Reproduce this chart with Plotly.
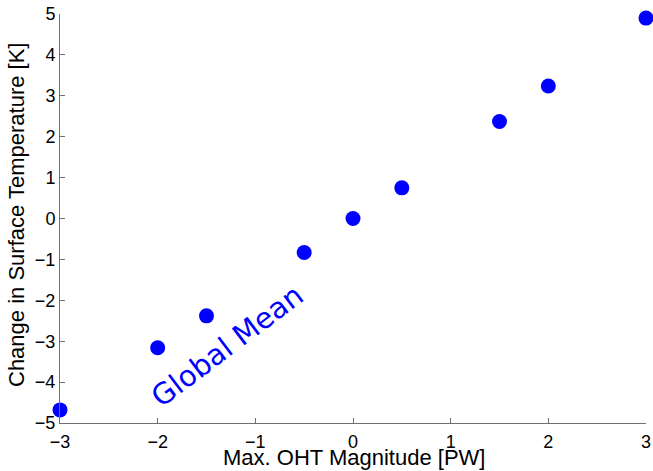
import plotly.graph_objects as go

x_vals = [-3, -2, -1.5, -0.5, 0, 0.5, 1.5, 2, 3]
y_vals = [-4.68, -3.16, -2.38, -0.83, 0.0, 0.75, 2.37, 3.24, 4.9]
x_ticks = [-3, -2, -1, 0, 1, 2, 3]
y_ticks = [-5, -4, -3, -2, -1, 0, 1, 2, 3, 4, 5]

W, H = 653, 471
L, R, T, B = 60, 7, 14, 48

fig = go.Figure()
fig.add_trace(go.Scatter(x=x_vals, y=y_vals, mode="markers",
                         marker=dict(color="#0000ff", size=15, line=dict(width=0)),
                         cliponaxis=False, showlegend=False))

tick_font = dict(family="Liberation Sans, Arial, sans-serif", size=18, color="black")
title_font = dict(family="Liberation Sans, Arial, sans-serif", size=22, color="black")
axis_common = dict(ticks="inside", ticklen=5, tickcolor="#707070", showline=True, linecolor="#707070",
                   linewidth=1, showgrid=False, zeroline=False, tickfont=tick_font, automargin=False)
fig.update_xaxes(range=[-3, 3], tickvals=x_ticks, ticklabelstandoff=2,
                 ticktext=[str(t).replace("-", "\u2212") for t in x_ticks], **axis_common)
fig.update_yaxes(range=[-5, 5], tickvals=y_ticks,
                 ticktext=[str(t).replace("-", "\u2212") for t in y_ticks], **axis_common)

pw = W - L - R
ph = H - T - B
fig.add_annotation(xref="paper", yref="paper", x=(354 - L) / pw, y=-(457 - (H - B)) / ph,
                   text="Max. OHT Magnitude [PW]", showarrow=False, font=title_font,
                   xanchor="center", yanchor="middle")
fig.add_annotation(xref="paper", yref="paper", x=-(L - 16) / pw, y=(H - B - 215) / ph,
                   text="Change in Surface Temperature [K]", showarrow=False, font=title_font,
                   textangle=-90, xanchor="center", yanchor="middle")

fig.add_annotation(x=-1.29, y=-3.12, text="Global Mean", showarrow=False, textangle=-37,
                   font=dict(family="DejaVu Sans, sans-serif", size=29, color="#0000ff"))

fig.update_layout(width=W, height=H, plot_bgcolor="white", paper_bgcolor="white",
                  margin=dict(l=L, r=R, t=T, b=B, autoexpand=False))
fig.write_html("out.html", config={"displayModeBar": False},
               post_script="document.body.style.margin='0';document.body.style.overflow='hidden';")
